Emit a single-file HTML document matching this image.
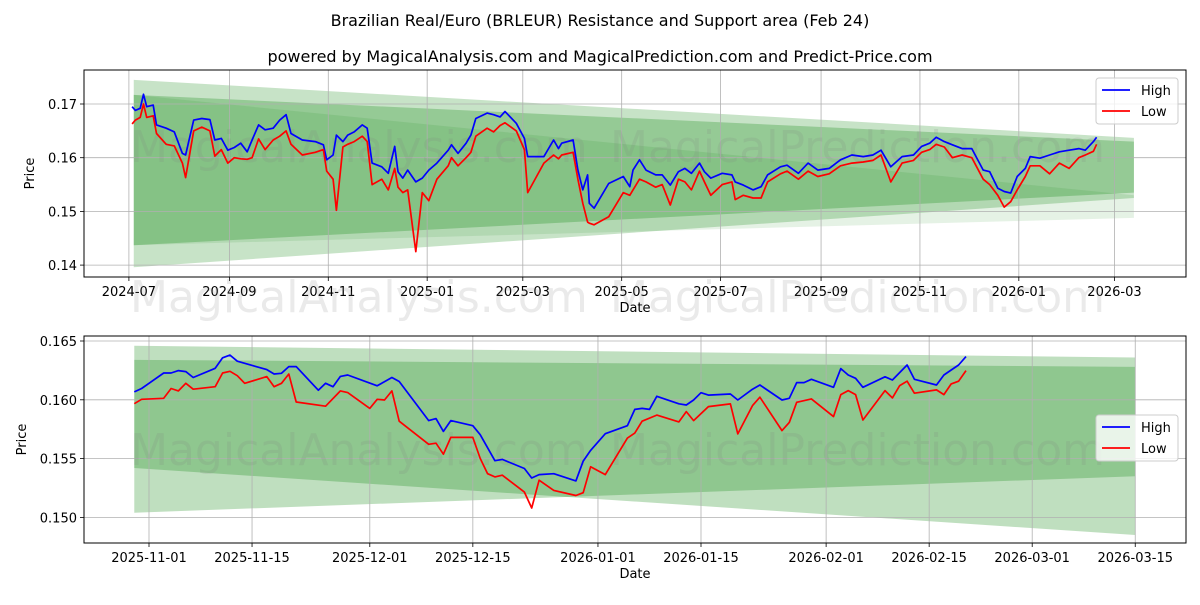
<!DOCTYPE html>
<html><head><meta charset="utf-8"><style>
body{margin:0;background:#fff;font-family:"Liberation Sans","DejaVu Sans",sans-serif;}
svg text{font-family:"DejaVu Sans","Liberation Sans",sans-serif;}
</style></head><body>
<svg id="chart" width="1200" height="600" viewBox="0 0 1200 600" xmlns="http://www.w3.org/2000/svg">
<rect width="1200" height="600" fill="#fff"/>
<text x="600" y="26" text-anchor="middle" font-size="16">Brazilian Real/Euro (BRLEUR) Resistance and Support area (Feb 24)</text>
<text x="600" y="62" text-anchor="middle" font-size="16">powered by MagicalAnalysis.com and MagicalPrediction.com and Predict-Price.com</text>
<g id="top"></g><g id="bot"></g>
</svg>
<script>
// ---- Top chart data (days since 2024-07-01) ----
const topHighDays=[2,4,7,9,11,15,17,23,28,33,35,40,45,50,53,57,61,65,69,73,76,80,84,89,93,97,100,107,115,120,122,126,128,132,135,139,144,147,150,156,160,164,166,169,172,177,181,185,190,197,199,203,208,211,214,221,225,229,232,239,244,246,256,262,265,267,274,277,280,283,284,287,296,305,309,311,315,319,325,329,334,339,343,347,352,355,359,366,372,374,379,385,390,394,402,406,413,419,425,432,439,446,453,459,464,470,477,484,489,494,498,503,508,514,520,527,531,536,540,544,548,553,556,562,568,574,580,586,590,595,597];
const topHigh=[.1695,.1688,.1692,.1718,.1695,.1698,.1661,.1655,.1648,.1608,.1605,.1670,.1673,.1671,.1633,.1636,.1614,.1619,.1627,.1611,.1633,.1661,.1652,.1655,.1670,.1680,.1645,.1633,.1630,.1624,.1596,.1605,.1642,.1630,.1642,.1648,.1661,.1655,.1590,.1583,.1571,.1621,.1574,.1562,.1577,.1555,.1562,.1577,.1590,.1614,.1624,.1608,.1627,.1642,.1673,.1683,.1680,.1676,.1686,.1664,.1636,.1602,.1602,.1633,.1617,.1627,.1633,.1577,.1540,.1568,.1515,.1506,.1552,.1565,.1546,.1577,.1596,.1577,.1568,.1568,.1549,.1574,.1580,.1571,.1590,.1574,.1562,.1571,.1568,.1555,.1549,.1540,.1546,.1568,.1583,.1586,.1571,.1590,.1577,.1580,.1596,.1605,.1602,.1605,.1614,.1583,.1602,.1605,.1621,.1627,.1638,.1630,.1624,.1617,.1617,.1577,.1574,.1543,.1537,.1534,.1565,.1580,.1602,.1599,.1605,.1611,.1614,.1617,.1614,.1630,.1638];
const topLowDays=topHighDays;
const topLow=[.1663,.1670,.1675,.1700,.1675,.1678,.1645,.1625,.1622,.1590,.1563,.1650,.1657,.1650,.1603,.1615,.1590,.1600,.1598,.1597,.1600,.1635,.1615,.1633,.1640,.1650,.1625,.1605,.1610,.1615,.1575,.1560,.1502,.1620,.1625,.1630,.1640,.1630,.1550,.1560,.1540,.1580,.1545,.1535,.1540,.1425,.1535,.1520,.1560,.1585,.1600,.1585,.1600,.1610,.1640,.1655,.1648,.1660,.1665,.1650,.1615,.1535,.1590,.1605,.1598,.1605,.1610,.1560,.1515,.1480,.1478,.1475,.1490,.1535,.1530,.1540,.1560,.1555,.1545,.1550,.1512,.1560,.1555,.1540,.1575,.1555,.1530,.1550,.1555,.1522,.1530,.1525,.1525,.1555,.1570,.1575,.1560,.1575,.1565,.1570,.1585,.1590,.1592,.1595,.1605,.1555,.1590,.1595,.1610,.1615,.1625,.1620,.1600,.1605,.1600,.1560,.1550,.1530,.1508,.1518,.1540,.1565,.1585,.1585,.1570,.1590,.1580,.1600,.1605,.1612,.1625];
const topTickDays=[0,62,123,184,243,304,365,427,488,549,608];
const topTickLabels=["2024-07","2024-09","2024-11","2025-01","2025-03","2025-05","2025-07","2025-09","2025-11","2026-01","2026-03"];
const topYTicks=[0.17,0.16,0.15,0.14];
const topBandDays=[3,620];
const topBandAUpper=[.1717,.1630], topBandALower=[.1437,.1535];
const topBandBUpper=[.1745,.1637], topBandBLower=[.1396,.1525];
const topBandCUpper=[.1717,.1530], topBandCLower=[.1437,.1488];
// ---- Bottom chart data (days since 2025-11-01) ----
const botHighDays=[-2,-1,2,3,4,5,6,9,10,11,12,16,17,18,19,20,23,24,25,26,27,31,33,34,38,39,40,41,44,45,47,48,51,52,53,55,58,59,60,62,65,66,67,68,69,72,73,74,75,76,79,80,82,83,86,87,88,89,90,93,94,95,96,97,100,101,103,104,107,108,109,110,111];
const botHigh=[.16067,.16096,.16228,.16228,.16248,.1624,.1619,.16268,.16357,.1638,.16328,.16257,.16219,.16225,.16282,.16282,.16082,.1614,.16111,.16199,.16211,.16119,.1619,.16156,.15823,.1584,.15731,.15823,.1578,.15703,.15482,.15493,.15416,.15335,.15364,.15372,.1531,.15479,.1557,.15712,.1578,.15918,.15927,.15918,.1603,.15966,.15956,.15998,.1606,.1604,.16049,.15998,.1609,.16126,.15998,.16013,.16146,.16146,.16174,.16106,.16265,.16211,.16183,.16106,.16196,.16168,.16296,.16174,.16126,.16211,.16253,.16296,.16367];
const botLowDays=[-2,-1,2,3,4,5,6,9,10,11,12,13,16,17,18,19,20,24,26,27,30,31,32,33,34,38,39,40,41,44,45,46,47,48,51,52,53,55,58,59,60,62,65,66,67,69,72,73,74,76,79,80,82,83,86,87,88,90,93,94,95,96,97,100,101,102,103,104,107,108,109,110,111];
const botLow=[.15967,.16004,.16013,.16096,.16076,.1614,.1609,.16111,.16228,.16242,.16205,.1614,.16197,.16111,.1614,.16219,.15981,.15946,.16076,.16061,.15927,.16004,.15998,.16076,.15818,.15622,.15631,.15537,.1568,.1568,.15502,.15372,.15344,.15359,.15215,.1508,.15316,.1523,.15186,.1521,.1543,.15364,.15674,.15717,.15818,.1587,.15812,.1590,.15823,.15942,.15965,.1571,.15951,.16022,.15738,.15808,.15979,.16008,.15857,.16044,.16078,.16044,.15828,.16078,.16016,.16121,.16158,.16056,.16084,.16044,.16135,.16158,.16248];
const botTickDays=[0,14,30,44,61,75,92,106,120,134];
const botTickLabels=["2025-11-01","2025-11-15","2025-12-01","2025-12-15","2026-01-01","2026-01-15","2026-02-01","2026-02-15","2026-03-01","2026-03-15"];
const botYTicks=[0.165,0.160,0.155,0.150];
const botBandDays=[-2,134];
const botBandAUpper=[.1634,.1628], botBandALower=[.1504,.1535];
const botBandBUpper=[.1646,.1636], botBandBLower=[.1542,.1485];

const NS="http://www.w3.org/2000/svg";
function mk(parent,tag,attrs,txt){const e=document.createElementNS(NS,tag);for(const k in attrs)e.setAttribute(k,attrs[k]);if(txt!==undefined)e.textContent=txt;parent.appendChild(e);return e;}

function drawPanel(g,cfg){
  const {L,R,T,B,xs,ys}=cfg;
  // bands
  cfg.bands.forEach((b,i)=>{
    const pts=[[xs(cfg.bandDays[0]),ys(b.u[0])],[xs(cfg.bandDays[1]),ys(b.u[1])],[xs(cfg.bandDays[1]),ys(b.l[1])],[xs(cfg.bandDays[0]),ys(b.l[0])]];
    const p=mk(g,'polygon',{points:pts.map(p=>p.join(',')).join(' '),fill:'#008000','fill-opacity':b.a});
    
    
  });
  // grid
  cfg.xTicks.forEach((d,i)=>{
    const x=xs(d);
    const l=mk(g,'line',{x1:x,x2:x,y1:T,y2:B,stroke:'#b0b0b0','stroke-width':0.8});
    
    
    mk(g,'line',{x1:x,x2:x,y1:B,y2:B+4,stroke:'#000','stroke-width':0.8});
    const t=mk(g,'text',{x:x,y:B+19,'text-anchor':'middle','font-size':13},cfg.xLabels[i]);
    
    
  });
  cfg.yTicks.forEach(v=>{
    const y=ys(v);
    const l=mk(g,'line',{x1:L,x2:R,y1:y,y2:y,stroke:'#b0b0b0','stroke-width':0.8});
    
    
    mk(g,'line',{x1:L-4,x2:L,y1:y,y2:y,stroke:'#000','stroke-width':0.8});
    const t=mk(g,'text',{x:L-7,y:y+5,'text-anchor':'end','font-size':13},v.toFixed(cfg.dec));
    
    
  });
  // watermarks
  cfg.wm.forEach(w=>{
    const t=mk(g,'text',{x:w[0],y:w[1],'font-size':44,fill:'#808080','fill-opacity':0.17},w[2]);
    
    
  });
  // lines
  const line=(days,vals,color,name)=>{
    const p=mk(g,'polyline',{points:days.map((d,i)=>xs(d).toFixed(1)+','+ys(vals[i]).toFixed(1)).join(' '),fill:'none',stroke:color,'stroke-width':1.7,'stroke-linejoin':'round'});
    
    
  };
  line(cfg.hd,cfg.h,'#0000ff','high-line');
  line(cfg.ld,cfg.l,'#ff0000','low-line');
  // frame
  const f=mk(g,'rect',{x:L,y:T,width:R-L,height:B-T,fill:'none',stroke:'#000','stroke-width':1});
  
  
  const xl=mk(g,'text',{x:(L+R)/2,y:B+35,'text-anchor':'middle','font-size':13},'Date');
  
  
  const yl=mk(g,'text',{x:0,y:0,'text-anchor':'middle','font-size':13,transform:`translate(${cfg.yLabX},${(T+B)/2}) rotate(-90)`},'Price');
  
  
  // legend
  const lg=mk(g,'g',{});
  
  
  const ly=cfg.legY;
  mk(lg,'rect',{x:1096,y:ly,width:82,height:46,rx:3,fill:'#fff','fill-opacity':0.8,stroke:'#ccc'});
  const e1=mk(lg,'g',{});
  
  
  mk(e1,'line',{x1:1102,x2:1130,y1:ly+12,y2:ly+12,stroke:'#0000ff','stroke-width':1.7});
  mk(e1,'text',{x:1141,y:ly+17,'font-size':13},'High');
  const e2=mk(lg,'g',{});
  
  
  mk(e2,'line',{x1:1102,x2:1130,y1:ly+33,y2:ly+33,stroke:'#ff0000','stroke-width':1.7});
  mk(e2,'text',{x:1141,y:ly+38,'font-size':13},'Low');
}

drawPanel(document.getElementById('top'),{
  L:84,R:1186,T:70,B:277,
  xs:d=>128.9+1.621*d, ys:v=>104+(0.17-v)*5370,
  bandDays:topBandDays,
  bands:[{u:topBandBUpper,l:topBandBLower,a:0.22},{u:topBandAUpper,l:topBandALower,a:0.25},{u:topBandCUpper,l:topBandCLower,a:0.1}],
  xTicks:topTickDays,xLabels:topTickLabels,yTicks:topYTicks,dec:2,
  hd:topHighDays,h:topHigh,ld:topLowDays,l:topLow,
  wm:[[130,162,'MagicalAnalysis.com'],[610,162,'MagicalPrediction.com'],[130,312,'MagicalAnalysis.com'],[610,312,'MagicalPrediction.com']],
  yLabX:34,legY:78
});
drawPanel(document.getElementById('bot'),{
  L:84,R:1186,T:336,B:543,
  xs:d=>149+7.36*d, ys:v=>341+(0.165-v)*11760,
  bandDays:botBandDays,
  bands:[{u:botBandBUpper,l:botBandBLower,a:0.25},{u:botBandAUpper,l:botBandALower,a:0.25}],
  xTicks:botTickDays,xLabels:botTickLabels,yTicks:botYTicks,dec:3,
  hd:botHighDays,h:botHigh,ld:botLowDays,l:botLow,
  wm:[[130,465,'MagicalAnalysis.com'],[610,465,'MagicalPrediction.com']],
  yLabX:26,legY:415
});
</script>
</body></html>
